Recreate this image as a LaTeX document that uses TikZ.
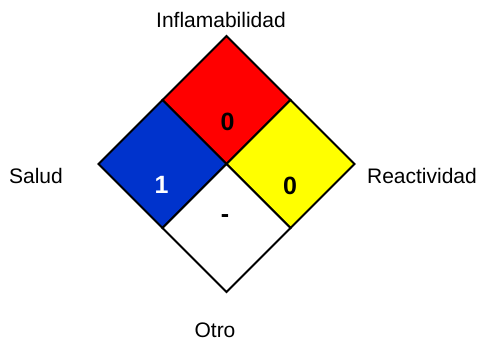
\documentclass[tikz,border=0pt]{standalone}
\usepackage{fontspec}
\setmainfont{Liberation Sans}
\definecolor{nfpared}{RGB}{255,0,0}
\definecolor{nfpablue}{RGB}{0,51,204}
\definecolor{nfpayellow}{RGB}{255,255,0}
\tikzset{
  quad/.style={draw=black,line width=2pt,line join=miter},
  rating/.style={anchor=base,font=\fontsize{25}{28}\selectfont\bfseries,inner sep=0pt},
  caption/.style={anchor=base,font=\fontsize{21}{24}\selectfont,inner sep=0pt}
}
\begin{document}
\begin{tikzpicture}[x=1pt,y=-1pt]
        \useasboundingbox (0,0) rectangle (480,341);

        % Vertices of the big diamond and its centre
        \coordinate (C) at (226.5,164);
        \coordinate (T) at (226.5,36);
        \coordinate (B) at (226.5,292);
        \coordinate (L) at (98.5,164);
        \coordinate (R) at (354.5,164);

        % Midpoints of the sides
        \coordinate (TL) at (162.5,100);
        \coordinate (TR) at (290.5,100);
        \coordinate (BL) at (162.5,228);
        \coordinate (BR) at (290.5,228);

        % The four coloured quarters
        \filldraw[quad,fill=nfpared] (T) -- (TR) -- (C) -- (TL) -- cycle;
        \filldraw[quad,fill=nfpablue] (TL) -- (C) -- (BL) -- (L) -- cycle;
        \filldraw[quad,fill=nfpayellow] (TR) -- (R) -- (BR) -- (C) -- cycle;
        \filldraw[quad,fill=white] (C) -- (BR) -- (B) -- (BL) -- cycle;

        % Ratings
        \node[rating] (fire) at (227.5,130) {0};
        \node[rating,text=white] (health) at (161.5,193) {1};
        \node[rating] (react) at (290,194) {0};
        \node[rating] (other) at (225,222) {-};

        % Captions round the diamond
        \node[caption] (flam) at (221,27) {Inflamabilidad};
        \node[caption] (salud) at (36,183) {Salud};
        \node[caption] (reac) at (422,183) {Reactividad};
        \node[caption] (otro) at (215,337) {Otro};
    \end{tikzpicture}
\end{document}
